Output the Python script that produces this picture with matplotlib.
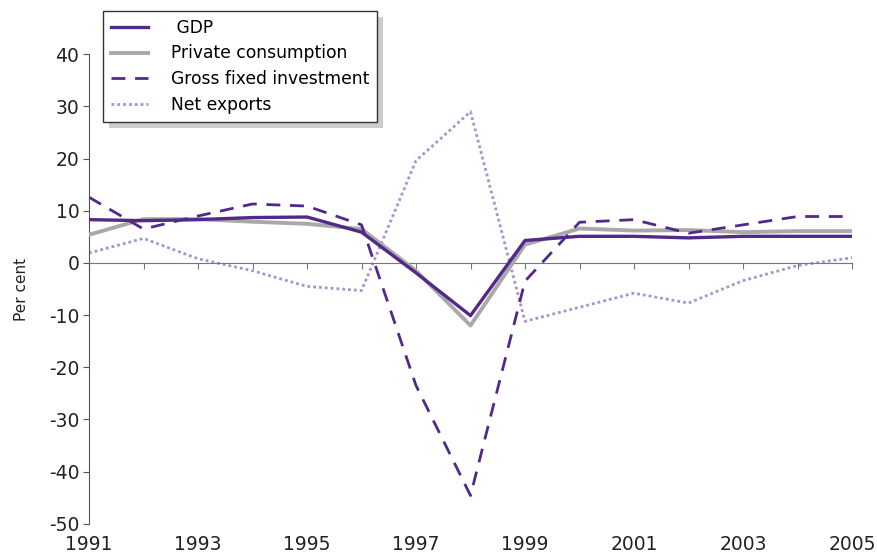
import matplotlib.pyplot as plt
import matplotlib.transforms as mtransforms
from matplotlib.patches import Rectangle

years = list(range(1991, 2006))
gdp = [8.3, 8.1, 8.3, 8.7, 8.8, 5.9, -1.9, -10.1, 4.3, 5.1, 5.1, 4.8, 5.1, 5.1, 5.1]
consumption = [5.4, 8.4, 8.4, 7.9, 7.5, 6.5, -1.5, -12.0, 3.5, 6.6, 6.2, 6.3, 5.9, 6.1, 6.1]
investment = [12.6, 6.5, 9.0, 11.3, 10.9, 7.3, -23.5, -44.6, -3.5, 7.8, 8.3, 5.7, 7.3, 8.9, 8.9]
net_exports = [1.9, 4.7, 0.8, -1.5, -4.5, -5.3, 19.6, 29.0, -11.2, -8.5, -5.8, -7.7, -3.4, -0.5, 1.0]
year_labels = [1991, 1993, 1995, 1997, 1999, 2001, 2003, 2005]
y_ticks = [-50, -40, -30, -20, -10, 0, 10, 20, 30, 40]

purple = '#52288a'
grey = '#a9a9a9'
lilac = '#a891cf'

fig = plt.figure(figsize=(8.77, 5.53), dpi=100)
ax = fig.add_axes([89 / 877, 1 - 523.7 / 553, 763 / 877, 469.4 / 553])

ax.plot(years, net_exports, color=lilac, lw=2.0, linestyle=(0, (1, 1.1)),
        label='Net exports', zorder=2)
ax.plot(years, consumption, color=grey, lw=2.8, label='Private consumption', zorder=3)
ax.plot(years, investment, color=purple, lw=2.0, linestyle=(0, (5, 3.5)),
        label='Gross fixed investment', zorder=4)
ax.plot(years, gdp, color=purple, lw=2.4, label=' GDP', zorder=5)

ax.set_xlim(1991, 2005)
ax.set_ylim(-50, 40)
ax.set_yticks(y_ticks)
ax.set_yticklabels([str(t) for t in y_ticks])
ax.set_xticks(years)
ax.set_xticklabels([])

for s in ['top', 'right']:
    ax.spines[s].set_visible(False)
ax.spines['left'].set_color('#555555')
ax.spines['bottom'].set_position(('data', 0))
ax.spines['bottom'].set_color('#777777')
ax.tick_params(axis='y', direction='out', length=4, color='#555555',
               labelsize=13.5, labelcolor='#222222', pad=3)
ax.tick_params(axis='x', direction='out', length=4, color='#777777')

# year labels sit under the plot area, not on the zero line
trans = mtransforms.blended_transform_factory(ax.transData, ax.transAxes)
for yr in year_labels:
    ax.text(yr, -0.025, str(yr), transform=trans, ha='center', va='top',
            fontsize=13.5, color='#222222')

ax.set_ylabel('Per cent', fontsize=11, color='#222222', labelpad=14)

handles, labels = ax.get_legend_handles_labels()
order = [3, 1, 2, 0]
leg = ax.legend([handles[i] for i in order], [labels[i] for i in order],
                loc='upper left', bbox_to_anchor=(0.0185, 1.092), fontsize=12.3,
                frameon=True, fancybox=False, framealpha=1,
                handlelength=2.2, handletextpad=1.3, borderpad=0.45,
                labelspacing=0.45, borderaxespad=0, edgecolor='#333333')
leg.get_frame().set_linewidth(1.0)

# drop shadow behind the legend box, offset down and right
fig.canvas.draw()
bb = leg.get_window_extent()
shadow = Rectangle((bb.x0 + 6, bb.y0 - 6), bb.width, bb.height, transform=None,
                   facecolor='#cccccc', edgecolor='none', zorder=4.9, clip_on=False)
ax.add_artist(shadow)
leg.set_zorder(6)

fig.savefig('out.png', dpi=100)
